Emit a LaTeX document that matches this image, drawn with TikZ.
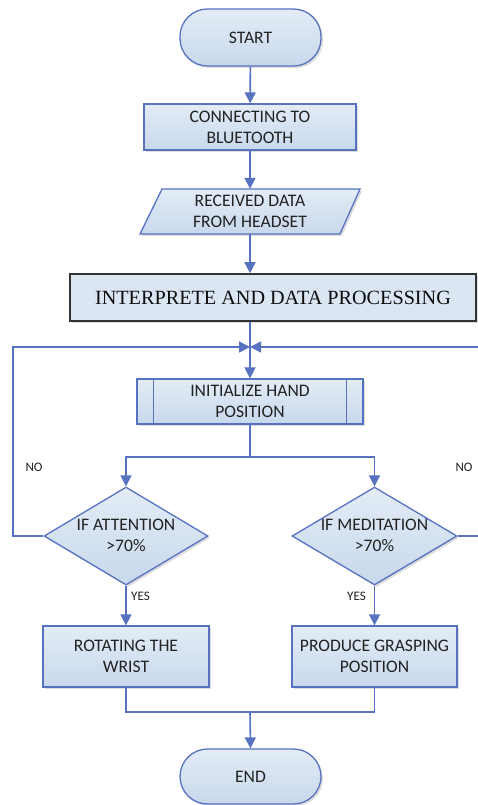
\documentclass[tikz,border=0pt]{standalone}
\usepackage{fontspec}
\setmainfont{Carlito}
\newfontfamily\serifb{Liberation Serif}
\usetikzlibrary{arrows.meta,shapes.geometric,shadows,calc}
\definecolor{lineblue}{HTML}{5672C0}
\definecolor{filltop}{HTML}{E3ECF6}
\definecolor{fillbot}{HTML}{C8D8EC}
\definecolor{txt}{HTML}{222222}
\begin{document}
\begin{tikzpicture}[x=1pt,y=-1pt,
 conn/.style={draw=lineblue, line width=1.6pt},
 arr/.style={conn, -{Triangle[length=11pt,width=11pt]}},
 shad/.style={drop shadow={shadow xshift=2pt,shadow yshift=-2pt,fill=black!30,opacity=0.45}},
 fillgrad/.style={top color=filltop, bottom color=fillbot},
 blk/.style={draw=lineblue, line width=1.3pt, fillgrad, text=txt,
   font=\fontsize{17.6}{21}\selectfont, align=center, inner sep=0pt, shad},
 term/.style={blk, rectangle, rounded corners=27.5pt},
 proc/.style={blk, rectangle},
 dia/.style={blk, diamond, inner sep=0pt},
 maintext/.style={text=txt, font=\fontsize{17.6}{21}\selectfont, align=center, inner sep=0pt},
 lbl/.style={text=txt, font=\fontsize{13}{15}\selectfont, inner sep=0pt}
]
\useasboundingbox (0,0) rectangle (478,805);
\clip (0,0) rectangle (478,805);

% nodes
\node[term, minimum width=141pt, minimum height=57pt] (start) at (250.5,37.5) {START};
\node[proc, minimum width=212pt, minimum height=46pt] (conn) at (250,127) {CONNECTING TO\\BLUETOOTH};
\node[maintext, minimum width=200pt, minimum height=45pt] (io) at (250,211.5) {};
\path[draw=lineblue, line width=1.3pt, fillgrad, shad]
  ($(io.center)+(-110,22.5)$) -- ($(io.center)+(-88,-22.5)$) -- ($(io.center)+(110,-22.5)$) -- ($(io.center)+(90,22.5)$) -- cycle;
\node[maintext] (iot) at (io.center) {RECEIVED DATA\\FROM HEADSET};
\node[draw=black!80, line width=1.6pt, fill=filltop!70!fillbot, shad, text=black!95,
  font=\serifb\fontsize{20.2}{23}\selectfont, minimum width=406pt, minimum height=47pt, inner sep=0pt]
  (interp) at (273,297.5) {INTERPRETE AND DATA PROCESSING};
\node[proc, minimum width=226pt, minimum height=45pt] (init) at (250,401.5) {INITIALIZE HAND\\POSITION};
\draw[draw=lineblue, line width=1.3pt] ($(init.north west)+(17,0)$) -- ($(init.south west)+(17,0)$);
\draw[draw=lineblue, line width=1.3pt] ($(init.north east)+(-17,0)$) -- ($(init.south east)+(-17,0)$);

\node[dia, minimum width=164pt, minimum height=98pt] (d1) at (126,536) {};
\node[maintext] (d1t) at (126,535) {IF ATTENTION\\>70\%};
\node[dia, minimum width=165pt, minimum height=98pt] (d2) at (374.5,536) {};
\node[maintext] (d2t) at (374.5,535) {IF MEDITATION\\>70\%};

\node[proc, minimum width=166pt, minimum height=61pt] (rot) at (126,656.5) {ROTATING THE\\WRIST};
\node[proc, minimum width=165pt, minimum height=61pt] (prod) at (374.5,656.5) {PRODUCE GRASPING\\POSITION};
\node[term, minimum width=141pt, minimum height=55pt] (end) at (250.5,776.5) {END};

% labels
\node[lbl] (no1) at (34,467) {NO};
\node[lbl] (no2) at (464,467) {NO};
\node[lbl, anchor=west] (yes1) at (131,596) {YES};
\node[lbl, anchor=west] (yes2) at (347,596) {YES};

% coordinates
\coordinate (J) at (250,347);
\coordinate (L) at (13,347);
\coordinate (R) at (484,347);
\coordinate (s1) at (250,457);
\coordinate (m) at (250,712);

% connectors
\draw[arr] (start) -- (conn);
\draw[arr] (conn) -- (io.north);
\draw[arr] (io.south) -- (io.south |- interp.north);
\draw[arr] (init.north |- interp.south) -- (init.north);
\draw[arr] (d1.west) -- (d1.west -| L) -- (L) -- (J);
\draw[arr] (d2.east) -- (d2.east -| R) -- (R) -- (J);
\draw[arr] (init.south) -- (s1) -| (d1.north);
\draw[arr] (s1) -| (d2.north);
\draw[arr] (d1.south) -- (rot.north);
\draw[arr] (d2.south) -- (prod.north);
\draw[conn] (rot.south) |- (m);
\draw[conn] (prod.south) |- (m);
\draw[arr] (m) -- (end.north);
\end{tikzpicture}
\end{document}
